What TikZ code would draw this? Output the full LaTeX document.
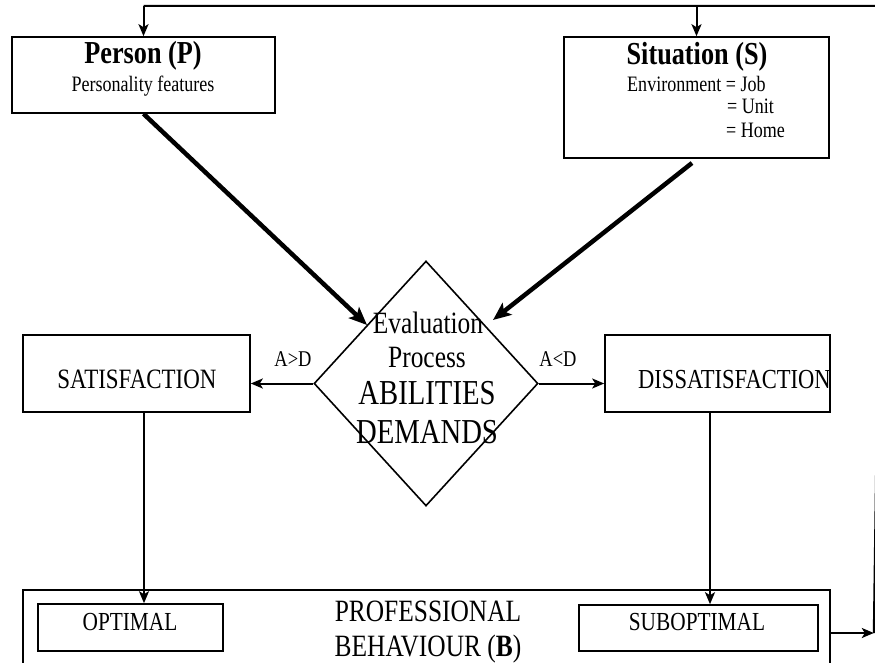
\documentclass[tikz,border=0pt]{standalone}
\usepackage{fontspec}
\setmainfont[FakeStretch=0.82]{Liberation Serif}
\usetikzlibrary{shapes.geometric,arrows.meta}

% font size helper (size given in pt, 1pt = 1 unit of the picture)
\newcommand{\sizedto}[1]{\fontsize{#1}{#1}\selectfont}

\begin{document}
\begin{tikzpicture}[x=1pt,y=-1pt,
  box/.style={draw, line width=1.6pt, inner sep=0pt},
  lbl/.style={inner sep=0pt, anchor=base},
  lblw/.style={inner sep=0pt, anchor=base west},
  conn/.style={line width=2pt, -{Stealth[length=12pt,width=10pt,inset=3pt]}},
  heavy/.style={line width=4.5pt, -{Stealth[length=18pt,width=15pt,inset=4pt]}},
  plain/.style={line width=2pt, line join=miter}]
\useasboundingbox (0,0) rectangle (875,663);

% boxes
\node[box, minimum width=263pt, minimum height=76pt]  (person)    at (143.5,75)   {};
\node[box, minimum width=265pt, minimum height=121pt] (situation) at (696.5,97.5) {};
\node[box, minimum width=227pt, minimum height=77pt]  (sat)       at (136.5,373.5) {};
\node[box, minimum width=225pt, minimum height=77pt]  (dissat)    at (717.5,373.5) {};
\node[draw, line width=1.6pt, diamond, inner sep=0pt,
      minimum width=224pt, minimum height=245pt]       (eval)      at (426,383.5)  {};
\node[box, minimum width=807pt, minimum height=110pt] (prof)      at (426.5,645)  {};
\node[box, minimum width=185pt, minimum height=47pt]  (optimal)   at (130.5,627.5) {};
\node[box, minimum width=239pt, minimum height=46pt]  (subopt)    at (698.5,628)  {};

% texts
\node[lbl] (personT) at (143,64)  {\sizedto{32}\bfseries Person (P)};
\node[lbl] (personS) at (143,92)  {\sizedto{22}Personality features};
\node[lbl] (sitT)    at (697,65)  {\sizedto{32}\bfseries Situation (S)};
\node[lblw] (envA)   at (627,92)  {\sizedto{22}Environment = Job};
\node[lblw] (envB)   at (727,114) {\sizedto{22}= Unit};
\node[lblw] (envC)   at (726,138) {\sizedto{22}= Home};
\node[lbl] (satT)    at (137,388) {\sizedto{28}SATISFACTION};
\node[lblw] (dissatT) at (638,388) {\sizedto{27.5}DISSATISFACTION};
\node[lbl] (gtT)     at (293,366) {\sizedto{22.5}A>D};
\node[lbl] (ltT)     at (558,366) {\sizedto{22.5}A<D};
\node[lbl] (evalA)   at (428,333) {\sizedto{31}Evaluation};
\node[lbl] (evalB)   at (427,367) {\sizedto{31}Process};
\node[lbl] (evalC)   at (427,404) {\sizedto{35}ABILITIES};
\node[lbl] (evalD)   at (427,443) {\sizedto{35}DEMANDS};
\node[lbl] (profA)   at (428,621) {\sizedto{31}PROFESSIONAL};
\node[lbl] (profB)   at (428,656) {\sizedto{31}BEHAVIOUR (\textbf{B})};
\node[lbl] (optT)    at (130,630) {\sizedto{26}OPTIMAL};
\node[lbl] (suboptT) at (697,630) {\sizedto{26}SUBOPTIMAL};

% helper coordinates
\coordinate (topL)    at (143.5,6);
\coordinate (cornerR) at (882.5,6);
\coordinate (feedR)   at (873.8,633);
\coordinate (pIn)     at (367,325);
\coordinate (sStart)  at (692,163);
\coordinate (sIn)     at (493,320);
\coordinate (satX)    at (144,0);
\coordinate (dissatX) at (710,0);

% feedback loop
\draw[plain] (feedR) -- (cornerR) -- (topL);
\draw[conn] (topL) -- (person.north);
\draw[conn] (situation.north |- topL) -- (situation.north);
\draw[conn] (prof.east |- feedR) -- (feedR);

% inputs to the evaluation
\draw[heavy] (person.south) -- (pIn);
\draw[heavy] (sStart) -- (sIn);

% outcomes
\draw[conn] (eval.west) -- (eval.west -| sat.east);
\draw[conn] (eval.east) -- (eval.east -| dissat.west);
\draw[conn] (sat.south -| satX) -- (optimal.north -| satX);
\draw[conn] (dissat.south -| dissatX) -- (subopt.north -| dissatX);
\end{tikzpicture}
\end{document}
